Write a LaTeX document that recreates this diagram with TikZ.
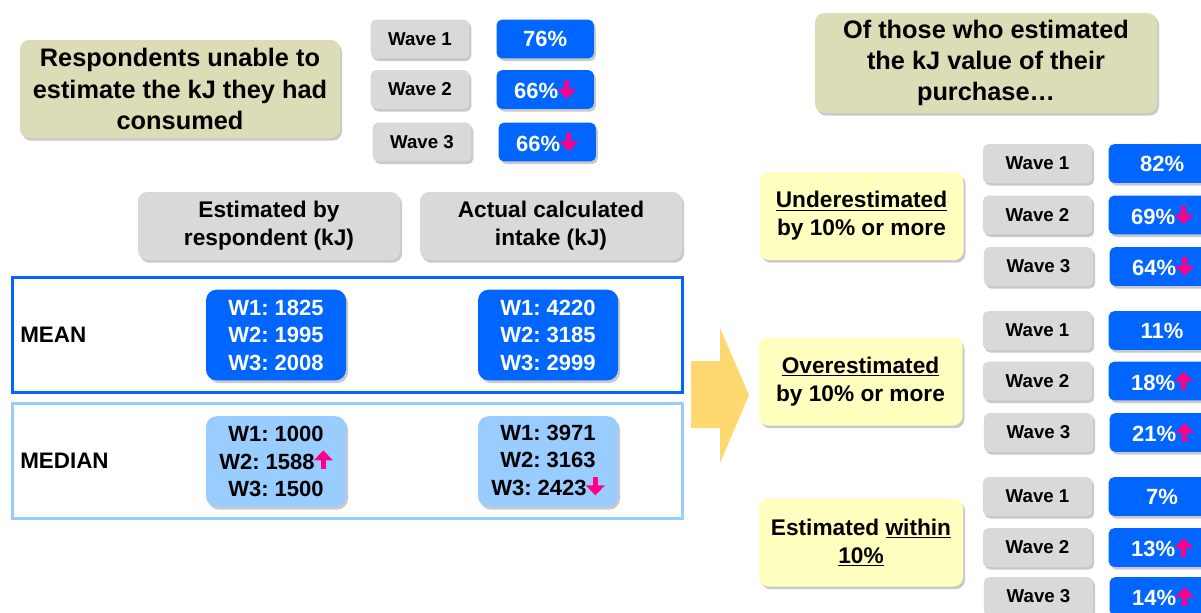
\documentclass[tikz,border=0pt]{standalone}
\usepackage{fontspec}
\setmainfont{Liberation Sans}
\usetikzlibrary{arrows.meta, shadows, positioning}
\frenchspacing

\definecolor{olivebg}{HTML}{DCDCB6}
\definecolor{wavegray}{HTML}{D9D9D9}
\definecolor{valblue}{HTML}{0066FF}
\definecolor{medblue}{HTML}{99CCFF}
\definecolor{paleyel}{HTML}{FFFFC0}
\definecolor{arrowyel}{HTML}{FFD870}
\definecolor{trendpink}{HTML}{FF0088}

\newcommand{\trendup}{\hspace{-0.5pt}\tikz[baseline=0pt]\draw[trendpink, line width=3.9pt, -{Triangle[length=7.5pt,width=14pt]}] (0pt,0pt) -- (0pt,14pt);}
\newcommand{\trenddown}{\hspace{-0.5pt}\tikz[baseline=0pt]\draw[trendpink, line width=3.9pt, -{Triangle[length=7.5pt,width=14pt]}] (0pt,14pt) -- (0pt,0pt);}

\begin{document}
\begin{tikzpicture}[
        x=0.75pt, y=-0.75pt,
        every node/.style={font=\bfseries},
        shade/.style={drop shadow={shadow xshift=1.5pt, shadow yshift=-2pt, opacity=0.3, fill=black!70}},
        titlebox/.style={
            rectangle,
            fill=olivebg,
            rounded corners=7pt,
            align=center,
            inner sep=0pt,
            shade,
            font=\bfseries\fontsize{19}{23.5}\selectfont
        },
        headbox/.style={
            rectangle,
            fill=wavegray,
            rounded corners=7pt,
            align=center,
            minimum width=196.5pt,
            minimum height=51pt,
            shade,
            font=\bfseries\fontsize{17}{21}\selectfont
        },
        catbox/.style={
            rectangle,
            fill=paleyel,
            rounded corners=7pt,
            align=center,
            minimum width=153pt,
            minimum height=66pt,
            shade,
            font=\bfseries\fontsize{17}{21}\selectfont
        },
        wavebox/.style={
            rectangle,
            fill=wavegray,
            rounded corners=4pt,
            minimum width=74pt,
            minimum height=29pt,
            inner sep=0pt,
            shade,
            font=\bfseries\fontsize{14}{17}\selectfont
        },
        valbox/.style={
            rectangle,
            fill=valblue,
            text=white,
            rounded corners=4pt,
            minimum width=73pt,
            minimum height=29pt,
            inner sep=0pt,
            shade,
            font=\bfseries\fontsize{16.5}{20}\selectfont
        },
        numbox/.style={
            rectangle,
            rounded corners=8pt,
            align=center,
            minimum width=105pt,
            minimum height=68pt,
            inner sep=0pt,
            shade,
            font=\bfseries\fontsize{16.5}{20.6}\selectfont
        },
        framebox/.style={
            rectangle,
            line width=2.25pt,
            minimum width=502.5pt,
            minimum height=86.25pt
        },
        rowlabel/.style={anchor=west, inner sep=0pt, font=\bfseries\fontsize{16.8}{20}\selectfont}
    ]

    \useasboundingbox (0,0) rectangle (1201,612);
    \clip (0,0) rectangle (1201,612);

    % Unable to estimate
    \node[titlebox, minimum width=240pt, minimum height=73.5pt] (unable) at (180,89) {Respondents unable to\\estimate the kJ they had\\consumed};

    \node[wavebox] (lw1) at (420,39) {Wave 1};
    \node[wavebox] (lw2) at (420,89.5) {Wave 2};
    \node[wavebox] (lw3) at (422,142) {Wave 3};

    \node[valbox, right=20pt of lw1] (lv1) {76\%};
    \node[valbox, right=20pt of lw2] (lv2) {66\%\trenddown};
    \node[valbox, right=20pt of lw3] (lv3) {66\%\trenddown};

    % Column headers
    \node[headbox] (est) at (269,226) {Estimated by\\respondent (kJ)};
    \node[headbox] (act) at (551,226) {Actual calculated\\intake (kJ)};

    % Mean / median rows
    \node[framebox, draw=valblue] (meanrow) at (347,334.5) {};
    \node[framebox, draw=medblue] (medianrow) at (347,460.5) {};

    \node[rowlabel] (meanlbl) at (20,335) {MEAN};
    \node[rowlabel] (medianlbl) at (20,461) {MEDIAN};

    \node[numbox, fill=valblue, text=white] (meanest) at (276,335) {W1: 1825\\W2: 1995\\W3: 2008};
    \node[numbox, fill=valblue, text=white] (meanact) at (548,335) {W1: 4220\\W2: 3185\\W3: 2999};
    \node[numbox, fill=medblue] (medest) at (276,461.5) {W1: 1000\\W2: 1588\trendup\\W3: 1500};
    \node[numbox, fill=medblue] (medact) at (548,461.5) {W1: 3971\\W2: 3163\\W3: 2423\trenddown};

    % Big arrow
    \fill[arrowyel] (691,361) -- (720,361) -- (720,328) -- (749,395) -- (720,463) -- (720,428) -- (691,428) -- cycle;

    % Of those who estimated
    \node[titlebox, minimum width=256.5pt, minimum height=75pt] (estd) at (986,63) {Of those who estimated\\the kJ value of their\\purchase\ldots};

    \node[catbox] (under) at (861.5,216) {\underline{Underestimated}\\by 10\% or more};
    \node[catbox] (over) at (860.5,381.5) {\underline{Overestimated}\\by 10\% or more};
    \node[catbox] (within) at (861,542.5) {Estimated \underline{within}\\\underline{10\%}};

    \node[wavebox, minimum width=82pt] (uw1) at (1037.5,163.5) {Wave 1};
    \node[wavebox, minimum width=82pt] (uw2) at (1037.5,215) {Wave 2};
    \node[wavebox, minimum width=82pt] (uw3) at (1038.5,266.5) {Wave 3};
    \node[valbox, minimum width=80pt, right=12pt of uw1] (uv1) {82\%};
    \node[valbox, minimum width=80pt, right=12pt of uw2] (uv2) {69\%\trenddown};
    \node[valbox, minimum width=80pt, right=12pt of uw3] (uv3) {64\%\trenddown};

    \node[wavebox, minimum width=82pt] (ow1) at (1037.5,330.5) {Wave 1};
    \node[wavebox, minimum width=82pt] (ow2) at (1037.5,381) {Wave 2};
    \node[wavebox, minimum width=82pt] (ow3) at (1038.5,432.5) {Wave 3};
    \node[valbox, minimum width=80pt, right=12pt of ow1] (ov1) {11\%};
    \node[valbox, minimum width=80pt, right=12pt of ow2] (ov2) {18\%\trendup};
    \node[valbox, minimum width=80pt, right=12pt of ow3] (ov3) {21\%\trendup};

    \node[wavebox, minimum width=82pt] (iw1) at (1037.5,496.5) {Wave 1};
    \node[wavebox, minimum width=82pt] (iw2) at (1037.5,547.5) {Wave 2};
    \node[wavebox, minimum width=82pt] (iw3) at (1038.5,596.5) {Wave 3};
    \node[valbox, minimum width=80pt, right=12pt of iw1] (iv1) {7\%};
    \node[valbox, minimum width=80pt, right=12pt of iw2] (iv2) {13\%\trendup};
    \node[valbox, minimum width=80pt, right=12pt of iw3] (iv3) {14\%\trendup};

\end{tikzpicture}
\end{document}
